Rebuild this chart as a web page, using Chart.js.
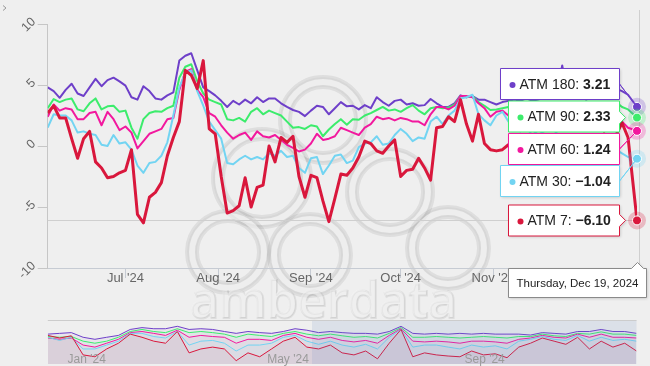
<!DOCTYPE html>
<html>
<head>
<meta charset="utf-8">
<script src="https://cdn.jsdelivr.net/npm/chart.js@4.4.1/dist/chart.umd.min.js"></script>
<style>
html,body{margin:0;padding:0;background:#efefef;overflow:hidden;}
#wrap{position:relative;width:650px;height:366px;}
canvas{position:absolute;left:0;top:0;}
</style>
</head>
<body>
<div id="wrap">
<canvas id="main" width="650" height="366"></canvas>
<canvas id="nav" width="650" height="366"></canvas>
</div>
<script>
// ---------------- DATA ----------------
const seriesNames = ['ATM 180', 'ATM 90', 'ATM 60', 'ATM 30', 'ATM 7'];
const lastDateLabel = 'Thursday, Dec 19, 2024';

// main chart: one value every ~2 days from Jun 5 2024 to Dec 19 2024
const atm180 = [4.8,4.5,3.95,4.6,5.1,4.3,4.1,4.8,5.5,4.9, 5.4,5.6,5.3,4.95,4.0,3.8,4.9,4.5,3.9,3.8,
  4.15,4.4,7.0,7.4,7.6,6.2,4.8,4.5,4.15,3.7, 3.2,3.7,3.4,3.8,3.5,4.0,3.6,3.9,3.9,3.5,
  3.2,2.95,2.8,2.45,2.9,3.3,3.2,2.6,3.1,3.6, 3.25,3.3,3.0,3.35,3.1,4.0,3.6,3.3,3.7,3.8,
  3.4,3.5,3.3,3.35,3.85,3.5,3.2,3.2,3.5,4.15, 4.0,4.1,3.8,3.8,3.6,3.4,3.6,3.7,3.8,3.7,
  3.9,3.7,3.8,4.0,3.9,4.2,6.6,4.0,3.9,4.1, 3.8,4.0,4.2,4.1,4.3,4.7,4.5,4.2,3.21];
const atm90 = [3.1,3.85,3.6,3.8,3.9,3.0,2.85,3.5,3.9,3.0, 3.25,3.3,2.8,2.9,1.5,0.6,2.2,2.7,2.85,2.8,
  3.1,3.3,5.6,6.5,6.7,5.3,4.3,3.8,3.6,3.4, 2.2,2.1,2.3,2.0,2.8,3.1,2.6,2.9,2.7,2.5,
  2.0,1.5,1.55,1.4,1.7,1.6,0.8,1.35,1.8,2.2, 1.75,2.2,2.15,2.5,2.7,2.95,3.2,2.9,3.0,2.8,
  3.1,3.35,2.9,2.6,3.1,3.2,3.1,3.15,3.4,4.1, 4.0,4.1,3.6,3.3,2.95,3.0,3.1,3.2,3.0,3.3,
  3.1,3.2,3.4,3.3,3.5,3.6,3.4,3.3,3.5,3.2, 3.4,3.5,3.3,3.6,3.4,3.6,3.2,3.0,2.33];
const atm60 = [2.4,3.4,2.9,3.1,3.0,2.2,2.2,2.7,2.8,1.7, 2.8,2.2,1.3,1.6,1.1,-0.2,0.4,1.0,1.2,1.4,
  2.2,2.3,4.6,6.1,6.3,4.6,4.0,2.7,2.4,1.7, 1.1,0.6,0.9,1.1,0.5,1.2,0.8,0.7,0.9,0.5,
  0.1,-0.15,-0.45,-0.3,0.2,1.0,0.5,0.6,0.8,1.5, 1.3,1.1,0.9,1.5,1.8,2.4,2.2,2.3,2.1,2.3,
  2.2,2.0,2.0,1.7,2.6,3.2,3.2,3.0,3.3,4.1, 4.1,4.0,3.5,3.1,2.4,2.8,2.9,2.5,2.3,2.6,
  2.2,2.4,2.7,2.5,2.8,2.6,2.3,2.5,2.7,2.4, 2.6,2.8,2.5,2.7,2.4,2.6,2.0,1.5,1.24];
const atm30 = [1.5,2.6,2.5,2.5,2.1,1.1,1.2,1.0,0.9,0.1, 0.0,0.9,0.2,0.3,-0.3,-1.6,-2.2,-1.4,-1.3,-0.8,
  0.3,2.5,4.8,6.0,6.2,4.5,3.3,2.0,1.3,0.6, -1.4,-1.5,-1.1,-0.8,-1.1,-0.9,-1.1,-0.6,-0.8,-0.4,
  -0.9,-0.8,-1.8,-2.2,-1.0,-0.9,-2.3,-1.6,-0.8,-0.7, -1.4,-1.2,-0.1,0.2,0.3,0.8,0.1,0.2,0.9,1.4,
  1.0,0.4,0.7,0.6,2.0,2.4,1.8,2.5,2.9,3.9, 4.0,4.2,2.6,2.1,1.7,2.5,2.8,2.0,1.6,1.2,
  1.5,0.9,1.3,1.0,0.7,1.1,0.6,0.9,0.4,0.8, 0.5,0.2,0.6,0.1,-0.5,-0.3,-0.6,-0.9,-1.04];
const atm7 = [2.7,3.3,2.3,2.3,0.6,-1.0,0.6,1.2,-1.3,-1.8, -2.6,-2.5,-2.2,-2.0,-0.3,-5.6,-6.3,-4.2,-3.8,-3.0,
  -0.8,0.7,2.0,6.2,5.8,4.7,7.0,1.4,1.0,-2.5, -5.5,-5.3,-4.9,-2.6,-5.0,-3.4,-3.2,0.0,-1.3,0.7,
  0.3,0.8,-2.5,-4.2,-2.4,-2.6,-4.5,-6.2,-4.3,-2.3, -2.4,-1.8,-0.9,0.4,0.2,-0.4,-0.6,0.0,0.5,-2.5,
  -2.0,-1.9,-1.0,-1.8,-2.8,1.5,1.6,2.4,2.0,3.8, 1.8,0.4,2.6,0.2,-0.3,-0.4,-0.3,0.1,0.3,-0.2,
  0.5,0.0,-0.4,0.2,0.6,-0.1,0.3,0.8,0.1,-0.3, 0.4,0.7,0.2,1.0,0.6,0.9,1.9,0.7,-6.1];

// x axis (days since Jun 5 2024)
const xTickLabels = ["Jul '24", "Aug '24", "Sep '24", "Oct '24", "Nov '24", "Dec '24"];
const xTickDays = [26, 57, 88, 118, 149, 179];
const yTickValues = [-10, -5, 0, 5, 10];
const yTickLabels = ['-10', '-5', '0', '5', '10'];

// navigator (whole history, coarse)
const navAtm180 = [4.4,4.8,5.2,2.7,1.6,2.7,3.7,6.9,7.9,7.3, 7.3,8.6,6.9,7.3,6.9,5.8,4.8,5.8,5.2,4.8,
  5.8,7.3,6.5,5.2,5.8,5.2,4.8,4.8,4.4,5.8, 8.6,4.8,4.4,4.8,4.4,4.8,4.4,4.8,4.4,4.4,
  4.4,3.9,5.2,4.8,4.4,5.8,5.8,6.9,5.8,5.8, 4.8];
const navAtm90 = [3.1,2.7,3.1,0.6,-0.5,0.6,2.7,5.8,6.9,5.8, 5.2,7.3,5.2,5.8,5.2,4.4,2.7,4.4,3.7,3.1,
  4.8,5.8,4.4,3.5,4.4,3.5,2.7,3.1,2.3,4.8, 7.9,2.7,2.7,3.1,2.7,2.3,2.7,3.1,2.7,2.3,
  3.1,3.1,4.4,3.5,3.1,4.8,4.4,5.6,4.4,4.4, 3.7];
const navAtm60 = [2.3,1.6,2.3,-1.5,-2.6,-0.5,1.6,5.2,5.8,4.8, 3.7,6.5,2.7,3.7,3.1,2.7,-0.5,1.6,1.6,1.0,
  3.7,4.8,2.7,1.6,2.7,1.0,0.2,1.0,-0.5,3.7, 7.3,0.6,0.2,0.6,0.2,-0.5,0.6,0.6,0.2,-0.5,
  1.6,2.3,3.7,2.7,2.3,4.4,2.7,4.4,2.7,2.7, 2.3];
const navAtm30 = [2.7,1.0,2.7,-3.6,-3.6,-1.5,0.6,4.8,4.8,3.1, 2.3,5.8,-1.5,0.6,1.0,-0.5,-4.7,-1.5,-1.5,-0.5,
  2.7,3.7,0.6,-1.1,0.6,-1.5,-2.6,-1.1,-3.6,2.7, 6.9,-2.6,-1.5,-1.5,-2.6,-3.6,-1.5,-2.6,-1.9,-3.6,
  0.6,1.6,3.1,1.6,1.0,3.7,0.6,2.7,1.0,1.6, 0.6];
const navAtm7 = [3.7,2.3,3.5,-6.8,-7.8,-3.6,-0.5,4.4,2.7,0.6, -0.5,5.8,-5.7,-3.6,-2.6,-3.6,-9.9,-5.7,-7.8,-3.6,
  0.6,2.7,-2.6,-3.6,-1.5,-5.7,-6.8,-4.7,-8.9,-0.5, 6.9,-7.8,-5.7,-6.8,-7.4,-7.8,-4.7,-6.8,-6.2,-8.3,
  -2.6,-0.5,2.3,0.6,-1.1,2.7,-3.6,0.6,-2.6,-0.5, -4.7];
const navTickLabels = ["Jan '24", "May '24", "Sep '24"];
const navTickPos = [3.3, 20.4, 37.1];

// ---------------- STYLE ----------------
const FONT = "'Liberation Sans', Arial, Helvetica, sans-serif";
const colors = ['#6e3fc9', '#3cec6c', '#f2189e', '#72d4f2', '#d9173c'];
const widths = [2, 2, 2, 2, 3];
const mainValues = [atm180, atm90, atm60, atm30, atm7];
const navValues = [navAtm180, navAtm90, navAtm60, navAtm30, navAtm7];
const dayIndex = atm180.map((_, i) => (i < atm180.length - 1 ? 2 * i : 197));
const navIndex = navAtm180.map((_, i) => i);

function hexA(hex, a) {
  const n = parseInt(hex.slice(1), 16);
  return `rgba(${(n >> 16) & 255},${(n >> 8) & 255},${n & 255},${a})`;
}
function fmt(v) { return v.toFixed(2).replace('-', '\u2212'); }

// ---------------- WATERMARK ----------------
function ring(ctx, cx, cy, r) {
  ctx.beginPath(); ctx.arc(cx, cy, r, 0, Math.PI * 2);
  ctx.lineWidth = 14; ctx.strokeStyle = 'rgba(0,0,0,0.07)'; ctx.stroke();
  ctx.lineWidth = 10; ctx.strokeStyle = 'rgba(0,0,0,0.03)'; ctx.stroke();
  ctx.lineWidth = 6; ctx.strokeStyle = 'rgba(255,255,255,0.55)'; ctx.stroke();
}
const watermark = {
  id: 'watermark',
  beforeDraw(chart) {
    const ctx = chart.ctx;
    ctx.save();
    [[323, 120, 38], [262, 178, 44], [390, 192, 38], [228, 252, 36], [310, 255, 36], [448, 248, 36]]
      .forEach(r => ring(ctx, r[0], r[1], r[2]));
    ctx.font = "600 50px 'Open Sans', sans-serif";
    ctx.textAlign = 'center'; ctx.textBaseline = 'alphabetic';
    ctx.lineWidth = 2; ctx.strokeStyle = 'rgba(0,0,0,0.07)';
    ctx.strokeText('amberdata', 324, 318);
    ctx.fillStyle = 'rgba(0,0,0,0.05)';
    ctx.fillText('amberdata', 324, 318);
    ctx.fillStyle = 'rgba(255,255,255,0.4)';
    ctx.fillText('amberdata', 323, 317);
    ctx.restore();
    // small menu chevron at top-left
    ctx.save();
    ctx.strokeStyle = '#999'; ctx.lineWidth = 1;
    ctx.beginPath(); ctx.moveTo(3, 5.5); ctx.lineTo(6, 8); ctx.lineTo(3, 10.5); ctx.stroke();
    ctx.restore();
  }
};

// ---------------- TOOLTIP OVERLAY ----------------
const boxTops = [68.5, 101, 133.5, 165.5, 205];
const overlay = {
  id: 'overlay',
  beforeDatasetsDraw(chart) {
    const { ctx, chartArea: a, scales: { x, y } } = chart;
    const yy = Math.round(y.getPixelForValue(atm7[atm7.length - 1])) + 0.5;
    const xx = Math.round(x.getPixelForValue(dayIndex[dayIndex.length - 1])) + 2.5;
    ctx.save();
    ctx.strokeStyle = '#cfcfcf'; ctx.lineWidth = 1;
    ctx.beginPath(); ctx.moveTo(a.left, yy); ctx.lineTo(a.right, yy); ctx.stroke();
    ctx.beginPath(); ctx.moveTo(xx, 10); ctx.lineTo(xx, a.bottom); ctx.stroke();
    ctx.restore();
  },
  afterDatasetsDraw(chart) {
    const { ctx, scales: { x, y } } = chart;
    const last = dayIndex.length - 1;
    const px = x.getPixelForValue(dayIndex[last]);
    mainValues.forEach((vals, k) => {
      const py = y.getPixelForValue(vals[last]);
      ctx.beginPath(); ctx.arc(px, py, 9, 0, Math.PI * 2);
      ctx.fillStyle = hexA(colors[k], 0.25); ctx.fill();
      ctx.beginPath(); ctx.arc(px, py, 4.5, 0, Math.PI * 2);
      ctx.fillStyle = colors[k]; ctx.fill();
      ctx.lineWidth = 1; ctx.strokeStyle = '#ffffff'; ctx.stroke();
    });
    const right = 619.5, h = 31;
    mainValues.forEach((vals, k) => {
      const name = seriesNames[k] + ': ';
      const val = fmt(vals[last]);
      ctx.font = `14px ${FONT}`;
      const w1 = ctx.measureText(name).width;
      ctx.font = `bold 14px ${FONT}`;
      const w2 = ctx.measureText(val).width;
      const w = Math.round(19 + w1 + w2 + 9);
      const bx = right - w, by = boxTops[k];
      const ay = y.getPixelForValue(vals[last]);
      ctx.save();
      ctx.beginPath();
      ctx.moveTo(bx, by); ctx.lineTo(right, by);
      if (ay > by + 6 && ay < by + h - 6) {
        ctx.lineTo(right, ay - 6); ctx.lineTo(right + 6, ay); ctx.lineTo(right, ay + 6);
      } else {
        ctx.lineTo(right, by + h / 2); ctx.lineTo(px, ay); ctx.lineTo(right, by + h / 2);
      }
      ctx.lineTo(right, by + h); ctx.lineTo(bx, by + h); ctx.closePath();
      ctx.shadowColor = 'rgba(0,0,0,0.18)'; ctx.shadowBlur = 3; ctx.shadowOffsetX = 1; ctx.shadowOffsetY = 1;
      ctx.fillStyle = '#ffffff'; ctx.fill();
      ctx.shadowColor = 'transparent';
      ctx.lineWidth = 1; ctx.strokeStyle = colors[k]; ctx.stroke();
      ctx.restore();
      const cy = by + h / 2;
      ctx.beginPath(); ctx.arc(bx + 12, cy + 1, 3, 0, Math.PI * 2);
      ctx.fillStyle = colors[k]; ctx.fill();
      ctx.fillStyle = '#222';
      ctx.textBaseline = 'middle'; ctx.textAlign = 'left';
      ctx.font = `14px ${FONT}`;
      ctx.fillText(name, bx + 19, cy + 1);
      ctx.font = `bold 14px ${FONT}`;
      ctx.fillText(val, bx + 19 + w1, cy + 1);
    });
    const dx = 508.5, dy = 268.5, dw = 138, dh = 29;
    const tip = Math.round(px) + 0.5;
    ctx.save();
    ctx.beginPath();
    ctx.moveTo(dx, dy); ctx.lineTo(tip - 6, dy); ctx.lineTo(tip, dy - 6); ctx.lineTo(tip + 6, dy);
    ctx.lineTo(dx + dw, dy); ctx.lineTo(dx + dw, dy + dh); ctx.lineTo(dx, dy + dh); ctx.closePath();
    ctx.shadowColor = 'rgba(0,0,0,0.18)'; ctx.shadowBlur = 3; ctx.shadowOffsetX = 1; ctx.shadowOffsetY = 1;
    ctx.fillStyle = '#ffffff'; ctx.fill();
    ctx.shadowColor = 'transparent';
    ctx.strokeStyle = '#8a8a8a'; ctx.lineWidth = 1; ctx.stroke();
    ctx.restore();
    ctx.fillStyle = '#222'; ctx.font = `11.5px ${FONT}`;
    ctx.textAlign = 'center'; ctx.textBaseline = 'middle';
    ctx.fillText(lastDateLabel, dx + dw / 2, dy + dh / 2 + 1);
  }
};

// ---------------- MAIN CHART ----------------
new Chart(document.getElementById('main'), {
  type: 'line',
  data: {
    datasets: mainValues.map((vals, k) => ({
      label: seriesNames[k],
      data: vals.map((v, i) => ({ x: dayIndex[i], y: v })),
      borderColor: colors[k], borderWidth: widths[k],
      pointRadius: 0, tension: 0, fill: false, borderJoinStyle: 'round'
    })).reverse()
  },
  options: {
    responsive: false, animation: false, devicePixelRatio: 1,
    layout: { padding: { left: 0, right: 13, top: 24, bottom: 0 } },
    plugins: { legend: { display: false }, tooltip: { enabled: false } },
    scales: {
      x: {
        type: 'linear', min: 0, max: 197,
        afterBuildTicks: s => { s.ticks = xTickDays.map(v => ({ value: v })); },
        afterFit: s => { s.height = 98; },
        ticks: { autoSkip: false, maxRotation: 0, minRotation: 0, padding: -7.5,
          callback: (v, i) => xTickLabels[i], color: '#666', font: { family: FONT, size: 13 } },
        grid: { drawOnChartArea: false, drawTicks: true, tickLength: 10, color: '#c6cbd3' },
        border: { display: true, color: '#c6cbd3' }
      },
      y: {
        min: -10, max: 10,
        afterBuildTicks: s => { s.ticks = yTickValues.map(v => ({ value: v })); },
        afterFit: s => { s.width = 47.7; },
        ticks: { minRotation: 45, maxRotation: 45, padding: 4, labelOffset: -4,
          callback: (v, i) => yTickLabels[i], color: '#666', font: { family: FONT, size: 12.5 } },
        grid: { drawOnChartArea: false, drawTicks: true, tickLength: 10, color: '#c6c6c6' },
        border: { display: true, color: '#c6c6c6' }
      }
    }
  },
  plugins: [watermark, overlay]
});

// ---------------- NAVIGATOR ----------------
const navOverlay = {
  id: 'navOverlay',
  afterDatasetsDraw(chart) {
    const { ctx, chartArea: a, scales: { x } } = chart;
    ctx.save();
    ctx.fillStyle = 'rgba(102,133,194,0.14)';
    ctx.fillRect(312, a.top, a.right - 312, a.bottom - a.top);
    ctx.strokeStyle = '#cccccc'; ctx.lineWidth = 1;
    ctx.beginPath(); ctx.moveTo(a.left, a.top + 0.5); ctx.lineTo(a.right, a.top + 0.5); ctx.stroke();
    ctx.fillStyle = '#9a9a9a'; ctx.font = `12px ${FONT}`;
    ctx.textAlign = 'center'; ctx.textBaseline = 'alphabetic';
    navTickPos.forEach((p, i) => ctx.fillText(navTickLabels[i], x.getPixelForValue(p), 363));
    ctx.restore();
  }
};
new Chart(document.getElementById('nav'), {
  type: 'line',
  data: {
    datasets: navValues.map((vals, k) => ({
      label: seriesNames[k],
      data: vals.map((v, i) => ({ x: navIndex[i], y: v })),
      borderColor: colors[k], borderWidth: 1, pointRadius: 0, tension: 0,
      fill: 'start', backgroundColor: hexA(colors[k], 0.05)
    })).reverse()
  },
  options: {
    responsive: false, animation: false, devicePixelRatio: 1,
    layout: { padding: { left: 47.8, right: 13.5, top: 320, bottom: 2 } },
    plugins: { legend: { display: false }, tooltip: { enabled: false } },
    scales: {
      x: { type: 'linear', min: 0, max: 50, display: false },
      y: { min: -11.7, max: 12, display: false }
    }
  },
  plugins: [navOverlay]
});
</script>
</body>
</html>
